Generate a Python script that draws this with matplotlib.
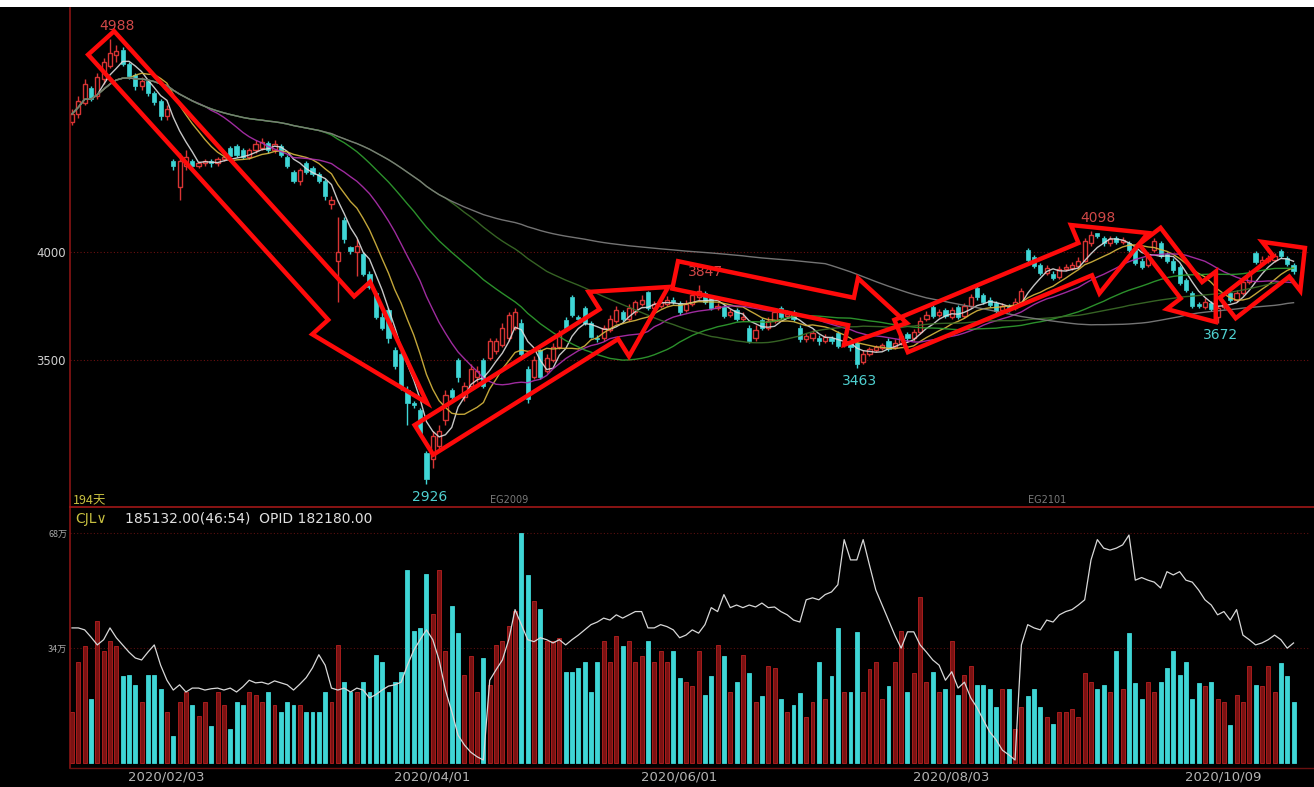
import numpy as np
import pandas as pd
import matplotlib
matplotlib.use("Agg")
import matplotlib.pyplot as plt
import matplotlib.transforms as mtransforms
from matplotlib.patches import Polygon, Rectangle

plt.rcParams['font.family'] = ['DejaVu Sans', 'Noto Sans CJK SC']
CJK = ['Noto Sans CJK SC', 'DejaVu Sans']

# ---------------- data ----------------
opens = [
4600, 4640, 4690, 4760, 4720, 4800, 4860, 4910, 4935, 4870,
4820, 4770, 4790, 4735, 4700, 4630, 4420, 4300, 4400, 4420,
4400, 4410, 4420, 4410, 4430, 4480, 4490, 4470, 4440, 4470,
4480, 4505, 4470, 4490, 4440, 4370, 4330, 4410, 4390, 4360,
4330, 4220, 3960, 4150, 4025, 4000, 3990, 3900, 3810, 3700,
3730, 3545, 3530, 3360, 3300, 3270, 3070, 3040, 3100, 3220,
3360, 3500, 3330, 3380, 3420, 3500, 3510, 3540, 3570, 3600,
3650, 3670, 3460, 3420, 3545, 3450, 3500, 3560, 3685, 3790,
3700, 3740, 3670, 3600, 3600, 3640, 3680, 3720, 3690, 3720,
3760, 3815, 3740, 3750, 3760, 3780, 3765, 3730, 3760, 3790,
3810, 3790, 3740, 3745, 3710, 3730, 3690, 3650, 3600, 3685,
3650, 3680, 3740, 3705, 3720, 3650, 3595, 3600, 3600, 3590,
3600, 3625, 3570, 3580, 3580, 3490, 3530, 3545, 3555, 3590,
3560, 3580, 3620, 3600, 3630, 3690, 3745, 3710, 3730, 3700,
3745, 3705, 3750, 3835, 3800, 3780, 3765, 3730, 3745, 3740,
3770, 4010, 3975, 3940, 3905, 3900, 3885, 3920, 3925, 3935,
3960, 4040, 4090, 4065, 4040, 4065, 4045, 4040, 4010, 3960,
3940, 4010, 4040, 3990, 3960, 3930, 3870, 3810, 3760, 3745,
3765, 3700, 3745, 3810, 3780, 3810, 3860, 3995, 3950, 3960,
3965, 4005, 3970, 3940]

closes = [
4640, 4700, 4780, 4710, 4810, 4880, 4920, 4930, 4870, 4815,
4770, 4790, 4735, 4695, 4630, 4660, 4400, 4420, 4440, 4400,
4410, 4420, 4410, 4430, 4440, 4445, 4450, 4440, 4470, 4500,
4510, 4470, 4500, 4450, 4400, 4330, 4380, 4370, 4360, 4330,
4260, 4240, 4000, 4060, 4005, 4030, 3900, 3840, 3700, 3650,
3600, 3470, 3375, 3300, 3290, 3160, 2950, 3150, 3170, 3340,
3330, 3420, 3380, 3460, 3450, 3380, 3590, 3590, 3650, 3710,
3720, 3530, 3320, 3500, 3420, 3510, 3560, 3620, 3650, 3710,
3690, 3670, 3605, 3595, 3650, 3690, 3730, 3690, 3740, 3770,
3780, 3740, 3760, 3770, 3780, 3770, 3720, 3760, 3800, 3820,
3770, 3740, 3750, 3705, 3720, 3690, 3700, 3590, 3640, 3650,
3680, 3720, 3700, 3715, 3690, 3595, 3610, 3625, 3590, 3605,
3590, 3565, 3580, 3560, 3480, 3530, 3550, 3560, 3570, 3550,
3580, 3610, 3600, 3630, 3680, 3710, 3705, 3720, 3705, 3730,
3700, 3750, 3790, 3790, 3770, 3755, 3725, 3750, 3740, 3770,
3820, 3965, 3935, 3905, 3925, 3880, 3920, 3930, 3940, 3960,
4050, 4080, 4075, 4040, 4060, 4045, 4055, 4010, 3950, 3930,
3990, 4050, 3980, 3960, 3915, 3855, 3825, 3750, 3750, 3770,
3735, 3740, 3760, 3780, 3810, 3860, 3900, 3955, 3965, 3970,
3980, 3980, 3945, 3910]

highs = [
4660, 4720, 4800, 4770, 4830, 4900, 4988, 4960, 4950, 4880,
4830, 4810, 4800, 4745, 4710, 4680, 4430, 4460, 4470, 4430,
4420, 4430, 4430, 4440, 4455, 4490, 4500, 4480, 4480, 4520,
4530, 4515, 4520, 4500, 4450, 4380, 4390, 4420, 4400, 4370,
4340, 4260, 4160, 4160, 4030, 4060, 4000, 3910, 3820, 3720,
3740, 3560, 3540, 3380, 3310, 3280, 3080, 3170, 3200, 3360,
3370, 3510, 3400, 3480, 3470, 3510, 3600, 3600, 3670, 3720,
3740, 3690, 3470, 3520, 3550, 3530, 3580, 3640, 3700, 3800,
3710, 3750, 3680, 3615, 3660, 3710, 3750, 3730, 3760, 3780,
3800, 3820, 3775, 3785, 3795, 3790, 3775, 3780, 3820, 3847,
3820, 3800, 3765, 3755, 3735, 3740, 3720, 3660, 3660, 3695,
3700, 3735, 3750, 3730, 3730, 3660, 3625, 3640, 3615, 3620,
3610, 3635, 3595, 3590, 3585, 3545, 3560, 3570, 3580, 3600,
3595, 3625, 3630, 3645, 3700, 3725, 3755, 3735, 3740, 3745,
3755, 3765, 3805, 3845, 3810, 3790, 3775, 3765, 3760, 3785,
3835, 4020, 3985, 3950, 3940, 3910, 3935, 3945, 3955, 3975,
4065, 4098, 4090, 4075, 4075, 4075, 4070, 4050, 4020, 3970,
4000, 4065, 4050, 4000, 3970, 3940, 3880, 3820, 3770, 3785,
3775, 3750, 3775, 3820, 3825, 3880, 3915, 4005, 3980, 3985,
3995, 4015, 3980, 3950]

lows = [
4590, 4620, 4680, 4700, 4710, 4780, 4850, 4880, 4860, 4800,
4750, 4750, 4720, 4680, 4610, 4610, 4380, 4240, 4380, 4380,
4390, 4400, 4395, 4400, 4420, 4435, 4440, 4430, 4430, 4460,
4470, 4460, 4460, 4440, 4390, 4320, 4310, 4360, 4350, 4320,
4240, 4200, 3770, 4040, 3990, 3890, 3890, 3830, 3690, 3640,
3580, 3460, 3360, 3200, 3280, 3150, 2926, 3000, 3080, 3200,
3310, 3400, 3310, 3370, 3400, 3370, 3500, 3530, 3560, 3590,
3640, 3520, 3300, 3410, 3410, 3440, 3490, 3550, 3640, 3700,
3680, 3660, 3600, 3585, 3590, 3630, 3670, 3680, 3680, 3710,
3750, 3730, 3730, 3740, 3750, 3760, 3710, 3720, 3750, 3780,
3760, 3730, 3730, 3695, 3700, 3680, 3680, 3580, 3590, 3640,
3640, 3670, 3690, 3695, 3680, 3585, 3585, 3590, 3570, 3580,
3575, 3555, 3560, 3540, 3463, 3480, 3520, 3535, 3545, 3540,
3550, 3570, 3590, 3590, 3620, 3680, 3695, 3700, 3695, 3690,
3690, 3695, 3740, 3780, 3760, 3745, 3715, 3720, 3720, 3730,
3760, 3950, 3925, 3895, 3895, 3870, 3875, 3910, 3915, 3925,
3955, 4030, 4065, 4030, 4030, 4035, 4035, 4000, 3940, 3920,
3930, 4000, 3970, 3950, 3905, 3845, 3815, 3740, 3740, 3735,
3725, 3672, 3735, 3770, 3770, 3800, 3850, 3945, 3940, 3950,
3955, 3970, 3935, 3900]

# volume (万手)
volume = [
15, 30, 34.6, 19, 42, 33, 36, 34.6, 25.6, 26,
23, 18, 26, 26, 22, 15, 8, 18, 21, 17,
14, 18, 11, 21, 17, 10, 18, 17, 21, 20,
18, 21, 17, 15, 18, 17, 17, 15, 15, 15,
21, 18, 35, 24, 21, 21, 24, 21, 32, 30,
21, 24, 27, 57, 39, 40, 56, 44, 57, 33,
46.5, 38.5, 26, 31.6, 21, 31, 23, 35, 36, 40.5,
45, 68, 55.5, 48, 45.6, 36, 36, 37, 27, 27,
28, 30, 21, 30, 36, 30, 37.6, 34.6, 36, 30,
31.6, 36, 30, 33, 30, 33, 25, 24, 22.7, 33,
20, 25.6, 35, 31.6, 21, 24, 32, 26.5, 18, 19.7,
28.6, 28, 19, 15, 17, 20.6, 13.7, 18, 30, 18.8,
25.6, 40, 21, 21, 38.8, 21, 27.7, 30, 18.8, 22.7,
30, 39, 21, 26.5, 49, 24, 27, 21, 22, 36,
20, 26, 28.6, 23, 23, 22, 16.7, 22, 22, 10,
16.7, 19.7, 21.8, 16.7, 13.7, 11.6, 15, 15, 16, 13.7,
26.5, 24, 21.8, 23, 21, 33, 21.8, 38.5, 23.6, 19,
24, 21, 24, 28, 33, 26, 30, 19, 23.6, 22.7,
24, 18.8, 18, 11.3, 20, 18, 28.6, 23, 22.7, 28.6,
21, 29.5, 25.6, 18]

# open interest (万手)
open_interest = [
20.5, 20.5, 20.2, 19.1, 17.9, 18.7, 20.5, 19.0, 17.9, 16.8,
15.9, 15.6, 16.8, 17.9, 14.8, 12.5, 11.0, 11.8, 10.7, 11.3,
11.3, 11.0, 11.2, 11.3, 11.0, 11.3, 10.7, 11.5, 12.5, 12.1,
12.2, 11.9, 12.4, 12.1, 11.8, 11.0, 11.9, 12.9, 14.4, 16.4,
14.8, 11.3, 11.0, 11.3, 10.7, 11.3, 11.0, 9.8, 10.3, 11.0,
11.6, 11.8, 12.2, 14.8, 17.1, 18.7, 20.2, 18.7, 15.6, 11.0,
7.7, 4.1, 2.6, 1.5, 0.8, 0.3, 12.5, 14.1, 15.6, 18.7,
23.3, 21.0, 18.7, 18.4, 19.0, 18.7, 18.2, 18.7, 17.9, 18.7,
19.4, 20.2, 21.0, 21.4, 22.0, 21.7, 22.5, 22.0, 22.5, 23.0,
23.0, 20.5, 20.5, 21.0, 20.7, 20.2, 19.0, 19.4, 20.2, 19.7,
21.0, 23.6, 23.0, 25.6, 23.6, 24.0, 23.6, 24.0, 23.7, 24.3,
23.6, 23.7, 23.0, 22.5, 21.7, 21.4, 24.8, 25.1, 24.8, 25.6,
26.0, 27.1, 34.0, 30.9, 30.9, 34.0, 30.1, 26.3, 24.0, 21.7,
19.4, 17.4, 19.9, 19.9, 17.9, 16.8, 15.6, 14.8, 12.5, 13.8,
11.3, 12.2, 9.8, 8.3, 6.4, 4.6, 3.4, 1.8, 1.1, 0.3,
17.9, 21.0, 20.5, 20.2, 21.7, 21.4, 22.5, 23.0, 23.3, 24.0,
24.8, 30.9, 34.0, 32.7, 32.4, 32.7, 33.2, 34.7, 27.8, 28.2,
27.8, 27.5, 26.6, 29.1, 28.6, 29.1, 27.8, 27.5, 26.3, 24.8,
24.0, 22.5, 23.0, 21.7, 23.3, 19.4, 18.7, 17.9, 18.2, 18.7,
19.4, 18.7, 17.4, 18.2]

date_ticks = [16, 58, 97, 140, 183]
date_labels = ["2020/02/03", "2020/04/01", "2020/06/01", "2020/08/03", "2020/10/09"]
ma_windows = [5, 10, 20, 40, 60, 120]
ma_colors = ['#dcdcdc', '#d8b840', '#b030b0', '#30a030', '#3c6e28', '#808080']
contracts = [(66, "EG2009"), (151, "EG2101")]
# (start, end, kind) windows for extreme-value labels
extreme_windows = [(0, 30, 'high'), (40, 80, 'low'), (85, 115, 'high'),
                   (110, 135, 'low'), (150, 175, 'high'), (175, 190, 'low')]
# trend arrows: (tail index, tail price, tip index, tip price, shaft px, head px, head length px)
arrows = [
    (4.6, 4968, 56.1, 3301, 35, 78, 128),
    (55.6, 3130, 94.2, 3838, 35, 76, 70),
    (95.3, 3894, 131.9, 3671, 28, 68, 57),
    (131.0, 3611, 170.0, 4088, 35, 74, 68),
    (170.3, 4074, 180.7, 3676, 27, 62, 40),
    (182.6, 3741, 194.8, 4019, 26, 62, 30),
]

# ---------------- figure ----------------
W, H = 1314, 787
fig = plt.figure(figsize=(W / 100, H / 100), dpi=100, facecolor='black')

def frac(x0, y0, x1, y1):
    return [x0 / W, 1 - y1 / H, (x1 - x0) / W, (y1 - y0) / H]

axp = fig.add_axes(frac(70, 8, 1310, 506))
axv = fig.add_axes(frac(70, 510, 1310, 768))
for ax in (axp, axv):
    ax.set_facecolor('black')
    for s in ax.spines.values():
        s.set_visible(False)

n = len(closes)
idx = np.arange(n)
o = np.array(opens, float); c = np.array(closes, float)
h = np.array(highs, float); l = np.array(lows, float)
up = c >= o

XL = (-0.316, 195.6)
axp.set_xlim(*XL)
axp.set_ylim(2824.1, 5129.6)
axv.set_xlim(*XL)
axv.set_ylim(-1.48, 74.8)

RED = '#d83434'
CYAN = '#3fd6d6'

# grid lines
for p in (3500, 4000):
    axp.axhline(p, color='#6a1010', lw=0.8, ls=(0, (1, 2)), zorder=1)
for v in (34, 68):
    axv.axhline(v, color='#5a1010', lw=0.8, ls=(0, (1, 2)), zorder=1)

# candles
bw = 0.66
for i in range(n):
    col = RED if up[i] else CYAN
    top, bot = max(o[i], c[i]), min(o[i], c[i])
    axp.vlines(i, top, h[i], color=col, lw=1, zorder=2)
    axp.vlines(i, l[i], bot, color=col, lw=1, zorder=2)
    hgt = max(top - bot, 4)
    if up[i]:
        axp.add_patch(Rectangle((i - bw / 2, bot), bw, hgt, facecolor='black',
                                edgecolor=col, lw=1, zorder=2))
    else:
        axp.add_patch(Rectangle((i - bw / 2, bot), bw, hgt, facecolor=col,
                                edgecolor=col, lw=0.5, zorder=2))

# moving averages
cs = pd.Series(c)
for w, col in zip(ma_windows, ma_colors):
    ma = cs.rolling(w, min_periods=1).mean()
    axp.plot(idx, ma, color=col, lw=1.0, zorder=3, alpha=0.9)

# extreme labels
for a, b, kind in extreme_windows:
    if kind == 'high':
        j = a + int(np.argmax(h[a:b]))
        axp.annotate(f"{int(h[j])}", (j, h[j]), xytext=(5, 4), textcoords='offset points',
                     ha='center', va='bottom', color='#d04848', fontsize=10)
    else:
        j = a + int(np.argmin(l[a:b]))
        axp.annotate(f"{int(l[j])}", (j, l[j]), xytext=(2, -4), textcoords='offset points',
                     ha='center', va='top', color='#4fd0d0', fontsize=10)

for j, name in contracts:
    axp.text(j, 2850, name, color='#7a7a7a', fontsize=7, ha='left', va='center')

axp.text(0.2, 2850, "194天", color='#c8c040', fontsize=9, ha='left', va='center',
         family=CJK)

# price ticks
axp.set_yticks([3500, 4000])
axp.set_yticklabels(["3500", "4000"], color='#d0d0d0', fontsize=8.5)
axp.tick_params(axis='y', length=0, pad=3)
axp.set_xticks([])

# volume bars
vol = np.array(volume, float)
vcol_face = np.where(up, '#7a1212', CYAN)
vcol_edge = np.where(up, '#b82020', CYAN)
axv.bar(idx, vol, width=0.62, color=vcol_face, edgecolor=vcol_edge, lw=0.6, zorder=2)

axo = axv.twinx()
axo.set_ylim(-0.92, 38.53)
axo.set_xlim(*XL)
for s in axo.spines.values():
    s.set_visible(False)
axo.plot(idx, open_interest, color='#d8d8d8', lw=0.9, zorder=3)
axo.set_yticks([])

axv.set_yticks([34, 68])
axv.set_yticklabels(["34万", "68万"], color='#a8a8a8', fontsize=6.5)
for t in axv.get_yticklabels():
    t.set_fontfamily(CJK)
axv.tick_params(axis='y', length=0, pad=2)
axv.set_xticks(date_ticks)
axv.set_xticklabels(date_labels, color='#b4b4b4', fontsize=9.5)
axv.tick_params(axis='x', length=0, pad=2)
shift = mtransforms.ScaledTranslation(-7 / 100, 0, fig.dpi_scale_trans)
for t in axv.get_xticklabels():
    t.set_transform(t.get_transform() + shift)

# frame lines
fig.add_artist(plt.Line2D([70 / W, 70 / W], [1 - 768 / H, 1 - 8 / H], color='#8a1414', lw=1.2))
fig.add_artist(plt.Line2D([70 / W, 1], [1 - 507 / H, 1 - 507 / H], color='#a01818', lw=1.2))
fig.add_artist(plt.Line2D([70 / W, 1], [1 - 768 / H, 1 - 768 / H], color='#6a1010', lw=1.0))
fig.add_artist(Rectangle((0, 1 - 7 / H), 1, 7 / H, transform=fig.transFigure,
                         facecolor='white', edgecolor='none'))

# header of volume panel
fig.text(75 / W, 1 - 519 / H, "CJL∨", color='#c8c040', fontsize=10, va='center', ha='left')
fig.text(125 / W, 1 - 519 / H, "185132.00(46:54)  OPID 182180.00", color='#e0e0e0',
         fontsize=10, va='center', ha='left')

# trend arrows (built in pixel space, drawn in data space)
fig.canvas.draw()
inv = axp.transData.inverted()
for ti, tp, hi_, hp, sw, hw, hl in arrows:
    a = axp.transData.transform((ti, tp))
    b = axp.transData.transform((hi_, hp))
    d = b - a
    u = d / np.hypot(*d)
    nrm = np.array([-u[1], u[0]])
    base = b - u * hl
    pts = [a + nrm * sw / 2, base + nrm * sw / 2, base + nrm * hw / 2, b,
           base - nrm * hw / 2, base - nrm * sw / 2, a - nrm * sw / 2]
    pts = inv.transform(np.array(pts))
    axp.add_patch(Polygon(pts, closed=True, fill=False, edgecolor='#ff0a0a', lw=3.2,
                          joinstyle='miter', zorder=5, clip_on=False))

fig.savefig("out.png", dpi=100, facecolor=fig.get_facecolor())
